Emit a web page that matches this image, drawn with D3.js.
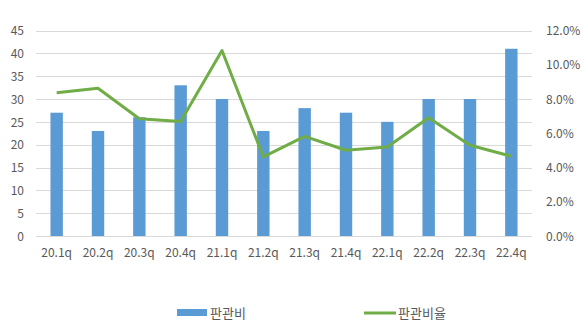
<!DOCTYPE html>
<html>
<head>
<meta charset="utf-8">
<script src="https://cdn.jsdelivr.net/npm/d3@7"></script>
<style>
  html, body { margin: 0; padding: 0; background: #fff; }
  svg text { font-family: "Noto Sans CJK KR", "Noto Sans", sans-serif; fill: #595959; }
</style>
</head>
<body>
<svg id="chart" width="583" height="334"></svg>
<script>
// Quarterly SG&A expense (bars, left axis) and SG&A ratio (line, right axis)
const quarters = ["20.1q","20.2q","20.3q","20.4q","21.1q","21.2q","21.3q","21.4q","22.1q","22.2q","22.3q","22.4q"];
const expense = [27, 23, 26, 33, 30, 23, 28, 27, 25, 30, 30, 41];
const ratio = [0.0837, 0.0863, 0.0685, 0.0668, 0.1083, 0.0462, 0.0582, 0.0501, 0.0520, 0.0691, 0.0530, 0.0466];
const leftTicks = [0, 5, 10, 15, 20, 25, 30, 35, 40, 45];
const rightTicks = [0, 0.02, 0.04, 0.06, 0.08, 0.10, 0.12];
const seriesNames = ["판관비", "판관비율"];

const svg = d3.select("#chart");
const plotLeft = 36, plotRight = 532, plotTop = 30.5, plotBottom = 236;

const x = d3.scaleBand().domain(quarters).range([plotLeft, plotRight]).paddingInner(0.7).paddingOuter(0.35);
const yL = d3.scaleLinear().domain([0, 45]).range([plotBottom, plotTop]);
const yR = d3.scaleLinear().domain([0, 0.12]).range([plotBottom, plotTop]);

// gridlines
svg.append("g").selectAll("line").data(leftTicks).join("line")
  .attr("x1", plotLeft).attr("x2", plotRight)
  .attr("y1", d => Math.round(yL(d)) + 0.5).attr("y2", d => Math.round(yL(d)) + 0.5)
  .attr("stroke", "#D9D9D9").attr("stroke-width", 1);

// left axis
const axL = svg.append("g").attr("transform", `translate(${plotLeft - 12},0)`)
  .call(d3.axisLeft(yL).tickValues(leftTicks).tickSize(0).tickPadding(0));
axL.select(".domain").remove();
axL.selectAll("text").attr("font-size", 12).attr("dy", "0.35em");

// right axis
const axR = svg.append("g").attr("transform", `translate(${plotRight + 14},0)`)
  .call(d3.axisRight(yR).tickValues(rightTicks).tickSize(0).tickPadding(0).tickFormat(d3.format(".1%")));
axR.select(".domain").remove();
axR.selectAll("text").attr("font-size", 12).attr("dy", "0.35em");

// bottom axis labels
const axB = svg.append("g").attr("transform", `translate(0,${plotBottom})`)
  .call(d3.axisBottom(x).tickSize(0).tickPadding(12));
axB.select(".domain").remove();
axB.selectAll("text").attr("font-size", 12);

// bars
svg.append("g").selectAll("rect").data(quarters).join("rect")
  .attr("x", d => x(d))
  .attr("width", x.bandwidth())
  .attr("y", (d, i) => yL(expense[i]))
  .attr("height", (d, i) => yL(0) - yL(expense[i]))
  .attr("fill", "#5B9BD5");

// ratio line
const line = d3.line()
  .x((d, i) => x(quarters[i]) + x.bandwidth() / 2)
  .y(d => yR(d));
svg.append("path").datum(ratio)
  .attr("d", line)
  .attr("fill", "none")
  .attr("stroke", "#70AD47")
  .attr("stroke-width", 3)
  .attr("stroke-linejoin", "round");

// legend
const lg = svg.append("g");
lg.append("rect").attr("x", 177).attr("y", 309).attr("width", 30).attr("height", 7).attr("fill", "#5B9BD5");
lg.append("text").attr("x", 210).attr("y", 313).attr("dy", "0.35em").attr("font-size", 13).text(seriesNames[0]);
lg.append("line").attr("x1", 364).attr("x2", 396).attr("y1", 313).attr("y2", 313)
  .attr("stroke", "#70AD47").attr("stroke-width", 3);
lg.append("text").attr("x", 398).attr("y", 313).attr("dy", "0.35em").attr("font-size", 13).text(seriesNames[1]);
</script>
</body>
</html>
